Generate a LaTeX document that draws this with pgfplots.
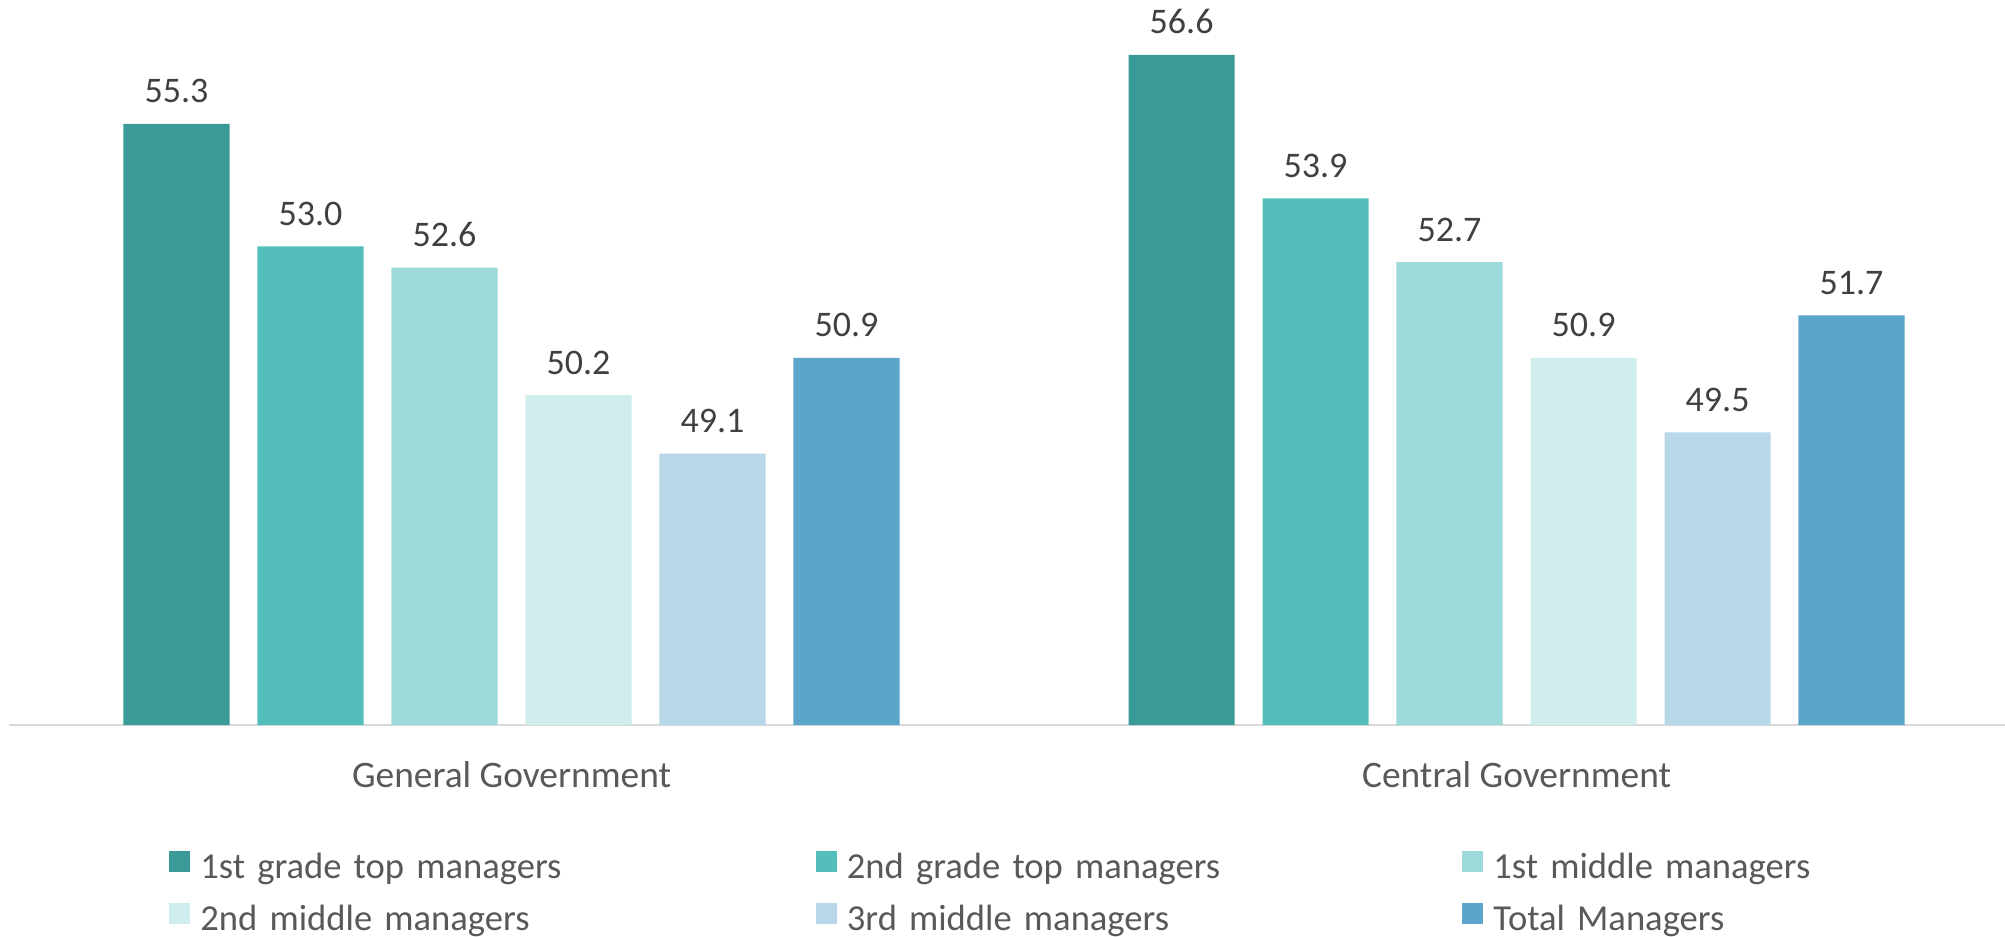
\documentclass[border=0pt]{standalone}
\usepackage{pgfplots}
\pgfplotsset{compat=1.18}
\usepackage{fontspec}
\setmainfont{Carlito}
\definecolor{c1}{HTML}{3A9A97}
\definecolor{c2}{HTML}{54BEBA}
\definecolor{c3}{HTML}{9DDADA}
\definecolor{c4}{HTML}{D0EDED}
\definecolor{c5}{HTML}{B8D7E8}
\definecolor{c6}{HTML}{5BA5CB}
\definecolor{lab}{HTML}{404040}
\definecolor{cat}{HTML}{595959}
\begin{document}
\begin{tikzpicture}
\begin{axis}[
  name=ax,
  scale only axis,
  width=998pt, height=362.5pt,
  xmin=-0.5, xmax=1.486,
  ymin=44, ymax=57.63,
  axis y line=none,
  axis x line*=bottom,
  x axis line style={draw=black!15, line width=1pt, -},
  xtick={0,1},
  xticklabels={General Government, Central Government},
  major tick length=0pt,
  xticklabel style={font=\fontsize{18.7}{22}\selectfont, text=cat, anchor=center, yshift=-25pt},
  clip=false,
  ybar, bar width=0.1056,
  /pgf/number format/assume math mode=true,
  nodes near coords={\pgfmathprintnumber[fixed,fixed zerofill,precision=1]{\pgfplotspointmeta}},
  every node near coord/.append style={font=\fontsize{18}{21}\selectfont, text=lab, anchor=base, yshift=10.5pt, inner sep=0pt},
  legend columns=3,
  legend style={at={(0,0)}, anchor=north west, xshift=80pt, yshift=-63pt, draw=none, inner sep=0pt,
    font=\fontsize{18.3}{21}\selectfont, text=cat,
    nodes={text width=307.75pt, align=left, inner xsep=0pt, inner ysep=0pt, text height=13pt, text depth=4pt},
    /tikz/every even column/.append style={column sep=0pt},
    /tikz/every odd column/.append style={column sep=5pt},
    row sep=8pt},
  legend cell align=left,
  legend image code/.code={\fill[#1, draw=none] (0pt,-1.25pt) rectangle (10.5pt,9.25pt);},
]
\addplot[fill=c1, draw=none, bar shift=0pt] coordinates {(-0.3333,55.3) (0.6667,56.6)};
\addlegendentry{1st grade top managers}
\addplot[fill=c2, draw=none, bar shift=0pt] coordinates {(-0.2,53.0) (0.8,53.9)};
\addlegendentry{2nd grade top managers}
\addplot[fill=c3, draw=none, bar shift=0pt] coordinates {(-0.0667,52.6) (0.9333,52.7)};
\addlegendentry{1st middle managers}
\addplot[fill=c4, draw=none, bar shift=0pt] coordinates {(0.0667,50.2) (1.0667,50.9)};
\addlegendentry{2nd middle managers}
\addplot[fill=c5, draw=none, bar shift=0pt] coordinates {(0.2,49.1) (1.2,49.5)};
\addlegendentry{3rd middle managers}
\addplot[fill=c6, draw=none, bar shift=0pt] coordinates {(0.3333,50.9) (1.3333,51.7)};
\addlegendentry{Total Managers}
\end{axis}
\pgfresetboundingbox
\path (ax.south west) ++(-4.5pt,-105.5pt) rectangle ++(1002.5pt,468pt);
\end{tikzpicture}
\end{document}
